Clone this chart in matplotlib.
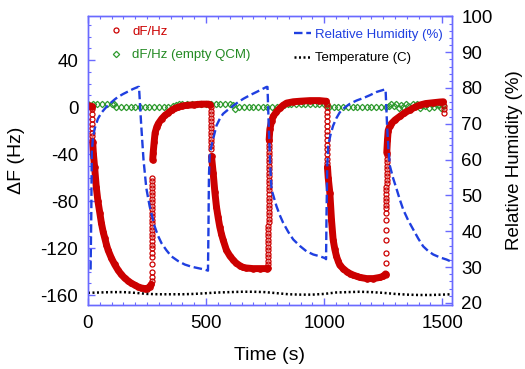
import numpy as np
import matplotlib
matplotlib.use("Agg")
import matplotlib.pyplot as plt
from matplotlib.ticker import MultipleLocator
from matplotlib.lines import Line2D

plt.rcParams['font.family'] = ['Liberation Sans', 'DejaVu Sans']

nan = np.nan
# ---- dF/Hz (red): continuous band segments separated by nan ----
red_band_t = [0, 5, 10, 15, 17, nan,
              20, 23, 28, 35, 42, 50, 57, 64, 71, 78, 85, 99, 113, 127, 141, 155, 170, 184, 198, 212, 226, 240, 250, 261, 268, nan,
              274, 276, 280, 284, 291, 298, 312, 326, 340, 355, 369, 383, 400, 420, 450, 480, 510, 518, nan,
              523, 530, 537, 544, 551, 558, 565, 572, 586, 600, 614, 628, 643, 657, 671, 699, 728, 756, 762, nan,
              767, 770, 777, 784, 798, 812, 826, 841, 869, 900, 940, 980, 1005, 1009, nan,
              1014, 1017, 1024, 1031, 1038, 1045, 1052, 1059, 1066, 1080, 1095, 1109, 1123, 1137, 1151, 1180, 1208, 1236, 1250, 1260, nan,
              1265, 1268, 1271, 1278, 1285, 1300, 1320, 1340, 1363, 1385, 1405, 1430, 1462, 1490, 1505]
red_band_df = [1, 1, 1, 0.5, 0, nan,
               -30, -40, -51, -68, -80, -90, -99, -106, -111.5, -117, -121.7, -128.5, -134, -138.7, -142.5, -145.5, -148, -150, -151.5, -153, -154, -154.5, -154.5, -153, -151, nan,
               -45, -39, -30, -22, -17, -14, -10, -7, -5, -2.5, -1, 0, 1, 1.5, 2, 2.5, 2.5, 2, nan,
               -42, -56, -72, -85, -94, -102, -108, -113, -121.7, -126.5, -130, -133, -135, -136.5, -137, -137.5, -137.5, -137.5, -137, nan,
               -28, -19, -12, -8, -4, -1, 1.5, 3.4, 4.5, 5, 5.5, 5.5, 5, 5, nan,
               -51, -60, -73, -96, -113, -121, -127, -131, -134.5, -137.5, -140, -141.7, -143, -144, -145, -146, -146, -145, -144, -142, nan,
               -39, -28, -20, -16, -14, -11, -8, -5, -2.5, 0, 1.7, 3, 3.7, 4.3, 4.5]

# ---- dF/Hz (red): isolated points during fast steps ----
red_jump_t = [18, 18, 18, 18, 19, 19, 19, 19,
              270, 270, 270, 270, 271, 271, 271, 271, 271, 271, 271, 271, 272, 272, 272, 272, 272, 272, 272, 272, 273, 273, 273, 273, 273, 273, 273,
              520, 520, 520, 520, 521, 521, 521, 521, 521, 522, 522, 522, 522,
              763, 763, 763, 763, 764, 764, 764, 764, 764, 764, 764, 764, 765, 765, 765, 765, 765, 765, 765, 765, 766, 766, 766, 766, 766, 766, 766, 766, 766, 766, 766, 766, 766, 766, 766, 766,
              1010, 1010, 1010, 1010, 1011, 1011, 1011, 1011, 1012, 1012, 1012, 1012, 1013, 1013, 1013,
              1262, 1262, 1262, 1262, 1262, 1262, 1263, 1263, 1263, 1263, 1263, 1263, 1263, 1263, 1264, 1264, 1264, 1264, 1264, 1264, 1264, 1264, 1264,
              1506, 1506, 1507]
red_jump_df = [-2, -6, -10, -14, -18, -22, -25, -28,
               -148, -145, -140, -134, -128, -124, -120, -117, -114, -111, -108, -105, -102, -99, -96, -93, -90, -87, -84, -81, -78, -75, -72, -69, -66, -63, -60,
               0, -3, -6, -9, -12, -15, -18, -21, -24, -27, -30, -33, -36,
               -134, -131, -128, -125, -122, -119, -116, -113, -110, -107, -104, -101, -98, -95, -92, -89, -86, -83, -80, -77, -74, -71, -68, -65, -62, -59, -56, -53, -50, -47, -44, -41, -38, -35, -32, -29,
               3, 0, -4, -8, -12, -16, -20, -24, -28, -32, -36, -40, -44, -48, -51,
               -143, -133, -124.5, -113, -105, -96, -90, -86, -83, -80, -77, -74, -71, -68, -65, -62, -59, -56, -53, -50, -47, -44, -41,
               1, -2, -5]

# ---- dF/Hz (empty QCM) (green) ----
green_t = [0, 20, 40, 60, 80, 100, 112, 120, 140, 160, 180, 200, 220, 240, 260, 280, 300, 320, 340, 360,
           372, 385, 400, 420, 440, 460, 480, 500, 520, 540, 560, 580, 600, 612, 622, 640, 660, 680, 700,
           720, 740, 760, 780, 800, 820, 832, 845, 860, 880, 900, 920, 940, 960, 980, 1000, 1012, 1022,
           1040, 1060, 1080, 1100, 1120, 1140, 1160, 1180, 1200, 1220, 1240, 1260, 1275, 1285, 1295, 1305,
           1315, 1325, 1335, 1345, 1355, 1365, 1375, 1385, 1395, 1405, 1415, 1425, 1435, 1445, 1455, 1465,
           1475, 1485, 1495, 1505]
green_df = [3, 3, 3, 3, 3, 3, 2.5, 0, 0, 0, 0, 0, 0, 0, 0, 0, 0, 0, 0, 0.5,
            1.5, 2.5, 3, 3, 3, 3, 3, 3, 3, 3, 3, 3, 3, 2, -2, 0, 0, 0, 0,
            0, 0, 0, 0, 0, 0.5, 1.5, 2.5, 3, 3, 3, 3, 3, 3, 3, 3, 1.5, 0,
            0, 0, 0, 0, 0, 0, 0, 0, 0, 0, 0, 0, 1, 2.5, 0.5, 3,
            -1, 2, 0, 3, 1, -1.5, 2.5, 0.5, 3, -0.5, 2, 1, 3, -1, 2.5, 0,
            3, 1.5, -1, 2]

# ---- Relative Humidity (%) (blue, right axis) ----
rh_t = [11, 14, 16, 21, 28, 42, 56, 71, 85, 99, 113, 127, 148, 169, 190, 212, 216,
        225, 235, 247, 261, 282, 296, 311, 332, 353, 381, 410, 438, 466, 494, 508,
        510, 512, 515, 520, 530, 544, 558, 572, 594, 616, 637, 658, 686, 714, 735, 756, 760,
        766, 772, 777, 798, 812, 826, 848, 869, 897, 925, 954, 982, 1003, 1008,
        1010, 1013, 1017, 1027, 1038, 1052, 1066, 1088, 1109, 1137, 1166, 1194, 1222, 1257, 1260,
        1266, 1272, 1278, 1292, 1307, 1321, 1335, 1356, 1377, 1398, 1419, 1440, 1462, 1490, 1518, 1535]
rh_val = [29.3, 45, 62, 66, 68.6, 71.4, 73, 74.2, 75.2, 76, 76.8, 77.5, 78.3, 79, 79.7, 80.3, 80.3,
          70, 60, 52, 47, 41.4, 38.8, 36.7, 34.7, 33, 31.7, 30.7, 30.1, 29.7, 29.3, 29,
          40, 55, 61, 63, 65.8, 69.5, 71.4, 72.8, 74, 75.1, 76.1, 77, 78, 78.9, 79.6, 80.3, 80.3,
          68, 58, 51.7, 47, 44.5, 42.4, 39.8, 37.7, 35.9, 34.4, 33.5, 33, 32.5, 32.2,
          45, 58, 63.9, 67, 69.5, 71.6, 73.2, 74.6, 75.6, 76.5, 77.2, 78, 78.9, 79.6, 79.6,
          70, 63, 58.3, 54.8, 51.7, 48.7, 46, 43, 40.5, 38, 35.8, 34.5, 33.5, 32.7, 32.1, 31.6]

# ---- Temperature (C) (black dotted, right axis) ----
temp_t = [0, 50, 100, 150, 200, 250, 300, 350, 400, 450, 500, 550, 600, 650, 700, 750, 800,
          850, 900, 950, 1000, 1050, 1100, 1150, 1200, 1250, 1300, 1350, 1400, 1450, 1500, 1540]
temp_val = [22.8, 22.9, 23.0, 23.0, 22.8, 22.5, 22.4, 22.4, 22.4, 22.5, 22.7, 22.9, 23.0, 23.1, 23.1, 23.0, 22.7,
            22.4, 22.3, 22.3, 22.5, 22.9, 23.0, 23.1, 23.0, 22.8, 22.5, 22.3, 22.2, 22.2, 22.3, 22.4]

RED = '#cc0000'
GREEN = '#2e9a2e'
GREEN_TXT = '#238a23'
BLUE = '#1f3fe0'
SPINE = '#6a6aff'

fig = plt.figure(figsize=(5.25, 3.69), dpi=100)
ax = fig.add_axes([0.1676, 0.1734, 0.6928, 0.7832])
ax2 = ax.twinx()

ax.plot(green_t, green_df, linestyle='none', marker='D', markersize=3.2, mfc='none',
        mec=GREEN, mew=0.9, zorder=3)
ax.plot(red_band_t, red_band_df, color=RED, lw=5.0, linestyle='-', zorder=4,
        solid_capstyle='round', solid_joinstyle='round')
ax.plot(red_band_t, red_band_df, linestyle='none', marker='o', markersize=3.8,
        mfc='none', mec=RED, mew=1, zorder=4)
ax.plot(red_jump_t, red_jump_df, linestyle='none', marker='o', markersize=3.6, mfc='none',
        mec=RED, mew=0.9, zorder=4)

ax2.plot(rh_t, rh_val, color=BLUE, lw=1.7, dashes=(3.6, 1.6))
ax2.plot(temp_t, temp_val, color='black', lw=1.8, dashes=(0.8, 1.0))

ax.set_xlim(0, 1540)
ax.set_ylim(-168.5, 77.5)
ax2.set_ylim(19.4, 100.1)

ax.xaxis.set_major_locator(MultipleLocator(500))
ax.xaxis.set_minor_locator(MultipleLocator(50))
ax.yaxis.set_major_locator(MultipleLocator(40))
ax.yaxis.set_minor_locator(MultipleLocator(10))
ax2.yaxis.set_major_locator(MultipleLocator(10))
ax2.yaxis.set_minor_locator(MultipleLocator(2))

for a in (ax, ax2):
    for s in a.spines.values():
        s.set_color(SPINE)
        s.set_linewidth(1.0)
ax.tick_params(axis='x', which='both', direction='in', top=True, colors=SPINE, labelcolor='black',
               labelsize=13.5, pad=7)
ax.tick_params(axis='y', which='both', direction='in', right=False, colors=SPINE, labelcolor='black',
               labelsize=13.5, pad=7)
ax2.tick_params(axis='y', which='both', direction='in', colors=SPINE, labelcolor='black',
                labelsize=13.5, pad=7)
for a in (ax, ax2):
    a.tick_params(which='major', length=5, width=1)
    a.tick_params(which='minor', length=2.5, width=0.8)

ax.set_yticks([-160, -120, -80, -40, 0, 40])
ax.set_yticklabels(['-160', '-120', '-80', '-40', '0', '40'])

ax.set_xlabel('Time (s)', fontsize=14)
ax.set_ylabel('ΔF (Hz)', fontsize=14)
ax2.set_ylabel('Relative Humidity (%)', fontsize=13.5)
ax.xaxis.set_label_coords(0.5, -0.145)
ax.yaxis.set_label_coords(-0.172, 0.5)
ax2.yaxis.set_label_coords(1.148, 0.5)

h1 = [Line2D([], [], linestyle='none', marker='o', markersize=3.6, mfc='none', mec=RED, mew=0.9),
      Line2D([], [], linestyle='none', marker='D', markersize=3.2, mfc='none', mec=GREEN, mew=0.9)]
leg1 = ax2.legend(h1, ['dF/Hz', 'dF/Hz (empty QCM)'], loc='upper left', bbox_to_anchor=(0.045, 0.985),
                  frameon=False, fontsize=9.5, labelcolor=[RED, GREEN_TXT], handlelength=1.0,
                  handletextpad=0.7, labelspacing=0.85, borderaxespad=0)
ax2.add_artist(leg1)
h2 = [Line2D([], [], color=BLUE, lw=1.7, dashes=(3.6, 1.6)),
      Line2D([], [], color='black', lw=1.8, dashes=(0.8, 1.0))]
ax2.legend(h2, ['Relative Humidity (%)', 'Temperature (C)'], loc='upper right', bbox_to_anchor=(0.99, 0.975),
           frameon=False, fontsize=9.5, labelcolor=[BLUE, 'black'], handlelength=1.3,
           handletextpad=0.3, labelspacing=0.85, borderaxespad=0)

fig.savefig('out.png', dpi=100)
